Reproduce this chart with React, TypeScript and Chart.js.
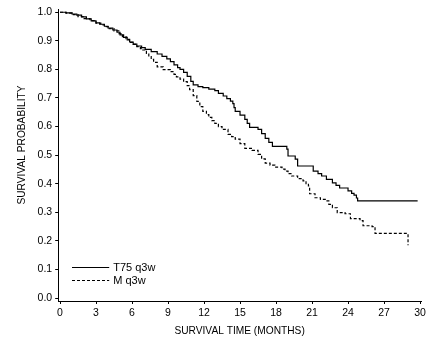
import React, { useEffect, useRef } from "react";
import { Chart, registerables } from "chart.js";

Chart.register(...registerables);

const seriesNames = ["T75 q3w", "M q3w"];

const t75Times = [0, 0.5, 1.0, 1.4, 1.8, 2.2, 2.6, 3.0, 3.3, 3.7, 4.0, 4.4, 4.75, 5.0, 5.3, 5.6, 5.8, 6.1, 6.4, 6.8, 7.1, 7.6, 8.1, 8.5, 8.9, 9.2, 9.5, 9.8, 10.0, 10.3, 10.6, 10.9, 11.1, 11.5, 11.9, 12.4, 12.9, 13.2, 13.6, 13.9, 14.2, 14.4, 14.5, 14.6, 15.0, 15.4, 15.6, 15.8, 16.5, 16.8, 17.1, 17.4, 17.7, 18.9, 19.0, 19.6, 19.8, 21.1, 21.5, 21.8, 22.2, 22.7, 23.0, 23.3, 24.0, 24.3, 24.5, 24.7, 24.8, 29.8];
const t75Surv = [1.0, 0.998, 0.994, 0.99, 0.984, 0.977, 0.97, 0.963, 0.958, 0.951, 0.945, 0.938, 0.93, 0.921, 0.912, 0.903, 0.896, 0.889, 0.882, 0.876, 0.87, 0.862, 0.854, 0.846, 0.837, 0.827, 0.816, 0.806, 0.8, 0.79, 0.776, 0.758, 0.746, 0.74, 0.736, 0.731, 0.726, 0.716, 0.707, 0.698, 0.689, 0.68, 0.666, 0.653, 0.64, 0.625, 0.611, 0.597, 0.59, 0.575, 0.559, 0.545, 0.531, 0.521, 0.497, 0.486, 0.462, 0.444, 0.435, 0.427, 0.415, 0.403, 0.394, 0.385, 0.375, 0.366, 0.36, 0.35, 0.34, 0.34];

const mTimes = [0, 0.5, 1.0, 1.5, 2.0, 2.5, 3.0, 3.4, 3.7, 4.1, 4.5, 4.9, 5.2, 5.5, 5.8, 6.1, 6.4, 6.7, 6.9, 7.2, 7.4, 7.6, 7.8, 8.1, 8.6, 9.2, 9.5, 9.7, 10.0, 10.3, 10.6, 10.8, 11.1, 11.4, 11.65, 11.9, 12.2, 12.4, 12.65, 12.9, 13.2, 13.5, 14.0, 14.3, 14.6, 15.0, 15.4, 16.0, 16.5, 16.8, 17.1, 17.5, 17.9, 18.5, 18.75, 19.0, 19.3, 19.8, 20.25, 20.5, 20.7, 20.8, 21.25, 21.7, 22.1, 22.4, 22.7, 23.1, 23.75, 24.2, 25.0, 25.25, 26.0, 26.25, 29.0, 29.0];
const mSurv = [1.0, 0.997, 0.992, 0.985, 0.978, 0.971, 0.962, 0.956, 0.95, 0.943, 0.935, 0.925, 0.915, 0.905, 0.895, 0.888, 0.88, 0.873, 0.868, 0.856, 0.845, 0.835, 0.825, 0.809, 0.799, 0.792, 0.783, 0.774, 0.766, 0.757, 0.743, 0.729, 0.708, 0.688, 0.67, 0.653, 0.642, 0.632, 0.621, 0.611, 0.6, 0.59, 0.573, 0.565, 0.556, 0.54, 0.524, 0.517, 0.503, 0.487, 0.472, 0.465, 0.458, 0.451, 0.444, 0.435, 0.427, 0.418, 0.41, 0.4, 0.392, 0.365, 0.351, 0.345, 0.34, 0.328, 0.316, 0.299, 0.295, 0.278, 0.271, 0.253, 0.25, 0.226, 0.226, 0.185];

const xTicks = [0, 3, 6, 9, 12, 15, 18, 21, 24, 27, 30];
const yTicks = [0, 0.1, 0.2, 0.3, 0.4, 0.5, 0.6, 0.7, 0.8, 0.9, 1.0];

const xTitle = "SURVIVAL TIME (MONTHS)";
const yTitle = "SURVIVAL PROBABILITY";

const FONT = "'Liberation Sans', Arial, sans-serif";

const overlayPlugin = {
  id: "overlay",
  afterDraw(chart: any) {
    const ctx = chart.ctx;
    ctx.save();
    ctx.fillStyle = "#000";
    ctx.font = `10.2px ${FONT}`;
    ctx.textAlign = "center";
    ctx.textBaseline = "middle";
    ctx.translate(22.5, 145);
    ctx.rotate(-Math.PI / 2);
    ctx.fillText(yTitle, 0, 0);
    ctx.restore();

    ctx.save();
    const xs = chart.scales.x;
    const ys = chart.scales.y;
    const x0 = xs.getPixelForValue(1);
    const x1 = xs.getPixelForValue(4.1);
    const rows = [ys.getPixelForValue(0.108), ys.getPixelForValue(0.062)];
    chart.data.datasets.forEach((ds: any, i: number) => {
      const y = Math.round(rows[i]) + 0.5;
      ctx.strokeStyle = "#000";
      ctx.lineWidth = ds.borderWidth;
      ctx.setLineDash(ds.borderDash || []);
      ctx.beginPath();
      ctx.moveTo(x0, y);
      ctx.lineTo(x1, y);
      ctx.stroke();
      ctx.setLineDash([]);
      ctx.fillStyle = "#000";
      ctx.font = `11px ${FONT}`;
      ctx.textAlign = "left";
      ctx.textBaseline = "middle";
      ctx.fillText(ds.label, x1 + 4, y + 0.5);
    });
    ctx.restore();
  },
};

export default function App() {
  const ref = useRef<HTMLCanvasElement>(null);
  useEffect(() => {
    if (!ref.current) return;
    const chart = new Chart(ref.current, {
      type: "line",
      data: {
        datasets: [
          {
            label: seriesNames[0],
            data: t75Times.map((t, i) => ({ x: t, y: t75Surv[i] })),
            borderColor: "#000",
            borderWidth: 1.2,
            stepped: "before",
            pointRadius: 0,
            fill: false,
          },
          {
            label: seriesNames[1],
            data: mTimes.map((t, i) => ({ x: t, y: mSurv[i] })),
            borderColor: "#000",
            borderWidth: 1.2,
            borderDash: [3, 2],
            stepped: "before",
            pointRadius: 0,
            fill: false,
          },
        ],
      },
      options: {
        responsive: false,
        animation: false,
        layout: { padding: { top: 7, right: 9, left: 0, bottom: 0 } },
        plugins: { legend: { display: false }, tooltip: { enabled: false } },
        scales: {
          x: {
            type: "linear",
            min: -0.15,
            max: 30.08,
            afterBuildTicks: (s: any) => {
              s.ticks = xTicks.map((v) => ({ value: v }));
            },
            afterFit: (s: any) => {
              s.height = 37;
            },
            grid: { drawOnChartArea: false, drawTicks: true, tickLength: 3, color: "#000" },
            border: { display: true, color: "#000", width: 1 },
            ticks: {
              color: "#000",
              font: { family: FONT, size: 10.5 },
              padding: 3,
              maxRotation: 0,
              autoSkip: false,
              callback: (v: any) => String(v),
            },
            title: {
              display: true,
              text: xTitle,
              color: "#000",
              font: { family: FONT, size: 10.2 },
              padding: { top: 0, bottom: 1 },
            },
          },
          y: {
            type: "linear",
            min: -0.0104,
            max: 1.0104,
            afterBuildTicks: (s: any) => {
              s.ticks = yTicks.map((v) => ({ value: v }));
            },
            afterFit: (s: any) => {
              s.width = 58.2;
            },
            grid: { drawOnChartArea: false, drawTicks: true, tickLength: 3, color: "#000" },
            border: { display: true, color: "#000", width: 1 },
            ticks: {
              color: "#000",
              font: { family: FONT, size: 10.5 },
              padding: 3,
              autoSkip: false,
              callback: (v: any) => Number(v).toFixed(1),
            },
          },
        },
      },
      plugins: [overlayPlugin],
    });
    return () => chart.destroy();
  }, []);
  return (
    <div style={{ position: "fixed", left: 0, top: 0, width: 430, height: 338, background: "#fff" }}>
      <canvas ref={ref} width={430} height={338} />
    </div>
  );
}
